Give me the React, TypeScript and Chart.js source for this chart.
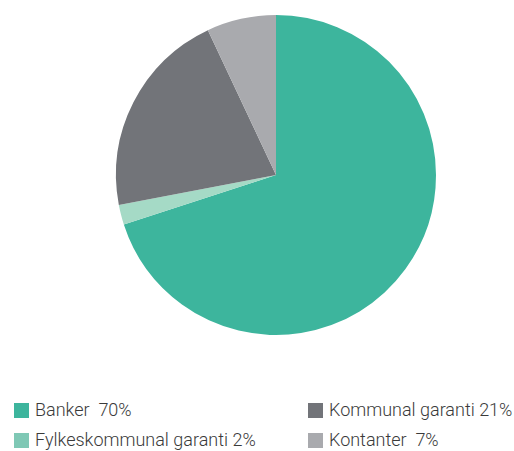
import React, { useEffect, useRef } from "react";
import { Chart, registerables } from "chart.js";

Chart.register(...registerables);

const categories = ["Banker", "Fylkeskommunal garanti", "Kommunal garanti", "Kontanter"];
const values = [70, 2, 21, 7];
const legendLabels = ["Banker  70%", "Fylkeskommunal garanti 2%", "Kommunal garanti 21%", "Kontanter  7%"];
const sliceColors = ["#3db59d", "#a5dac6", "#727479", "#a9aaae"];
const legendColors = ["#3db59d", "#7fc8b5", "#727479", "#a9aaae"];

const legendPos = [
  { left: 14, top: 400 },
  { left: 14, top: 430 },
  { left: 308, top: 400 },
  { left: 308, top: 430 },
];

export default function App() {
  const ref = useRef<HTMLCanvasElement>(null);
  useEffect(() => {
    if (!ref.current) return;
    const chart = new Chart(ref.current, {
      type: "pie",
      data: {
        labels: categories,
        datasets: [{ data: values, backgroundColor: sliceColors, borderWidth: 0 }],
      },
      options: {
        responsive: false,
        animation: false,
        layout: { padding: { top: 15, bottom: 15, left: 38, right: 0 } },
        plugins: { legend: { display: false }, tooltip: { enabled: false } },
      },
    });
    return () => chart.destroy();
  }, []);
  return (
    <div style={{ position: "absolute", left: 0, top: 0, width: 514, height: 451, background: "#fff", fontFamily: "Roboto, sans-serif" }}>
      <canvas ref={ref} width={514} height={350} style={{ display: "block" }} />
      {legendLabels.map((l, i) => (
        <div key={i} style={{ position: "absolute", left: legendPos[i].left, top: legendPos[i].top, display: "flex", alignItems: "center", whiteSpace: "pre" }}>
          <span style={{ width: 15, height: 15, background: legendColors[i], display: "inline-block", marginRight: 6 }} />
          <span style={{ fontSize: 18, fontWeight: 300, color: "#3a3a3a", lineHeight: "20px", whiteSpace: "pre" }}>{l}</span>
        </div>
      ))}
    </div>
  );
}
